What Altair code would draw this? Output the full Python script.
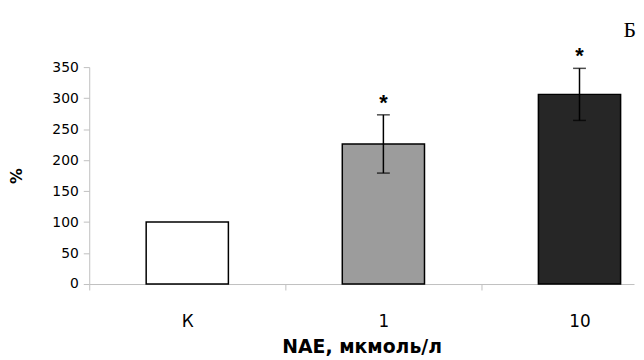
import altair as alt
import pandas as pd

categories = ["К", "1", "10"]
means = [100, 226, 306]
errors = [0, 47, 42]
marks = ["", "*", "*"]
fills = ["#ffffff", "#9c9c9c", "#262626"]

df = pd.DataFrame({
    "idx": list(range(len(categories))),
    "cat": categories,
    "mean": means,
    "lo": [m - e for m, e in zip(means, errors)],
    "hi": [m + e for m, e in zip(means, errors)],
    "has_err": [e > 0 for e in errors],
    "star": marks,
    "fill": fills,
})

label_expr = " : ".join(
    f"datum.value == {i} ? '{c}'" for i, c in enumerate(categories)
) + " : ''"
tick_values = [-0.5, 0, 0.5, 1, 1.5, 2]

xscale = alt.Scale(domain=[-0.5, 2.278], nice=False, zero=False, padding=0)
xaxis = alt.Axis(
    values=tick_values,
    labelExpr=label_expr,
    tickOpacity={"condition": {"test": "datum.value % 1 == 0", "value": 0}, "value": 1},
    grid=False,
    tickSize=6,
    labelOverlap=False,
    labelFlush=False,
    labelPadding=24,
    labelFontSize=17,
    labelFont="DejaVu Sans",
    labelColor="#000000",
    domainColor="#bfbfbf",
    tickColor="#bfbfbf",
    title="NAE, мкмоль/л",
    titleFont="DejaVu Sans",
    titleFontSize=19,
    titleFontWeight="bold",
    titleColor="#000000",
    titlePadding=8,
)

yscale = alt.Scale(domain=[0, 350], nice=False)
yaxis = alt.Axis(
    values=[0, 50, 100, 150, 200, 250, 300, 350],
    grid=False,
    tickSize=6,
    labelPadding=5,
    labelOverlap=False,
    labelFontSize=14,
    labelFont="DejaVu Sans",
    labelColor="#000000",
    domainColor="#bfbfbf",
    tickColor="#bfbfbf",
    title="%",
    titleFont="DejaVu Sans",
    titleFontSize=16,
    titleFontWeight="bold",
    titleColor="#000000",
    titlePadding=28,
)

def X():
    return alt.X("idx:Q", scale=xscale, axis=xaxis)

def Y(field):
    return alt.Y(f"{field}:Q", scale=yscale, axis=yaxis)

bars = alt.Chart(df).mark_bar(size=83, stroke="#000000", strokeWidth=1.5).encode(
    x=X(),
    y=Y("mean"),
    fill=alt.Fill("fill:N", scale=None),
)

err_df = df[df["has_err"]]
rule = alt.Chart(err_df).mark_rule(color="#000000", strokeWidth=1.5).encode(
    x=X(), y=Y("lo"), y2="hi:Q"
)
cap_hi = alt.Chart(err_df).mark_tick(
    orient="horizontal", size=13, thickness=1.5, color="#000000"
).encode(x=X(), y=Y("hi"))
cap_lo = alt.Chart(err_df).mark_tick(
    orient="horizontal", size=13, thickness=1.5, color="#000000"
).encode(x=X(), y=Y("lo"))

stars = alt.Chart(err_df).mark_text(
    font="Liberation Sans", fontSize=22, fontWeight="bold", baseline="middle", dy=-12, color="#000000"
).encode(x=X(), y=Y("hi"), text="star:N")

chart = alt.layer(bars, rule, cap_hi, cap_lo, stars).properties(
    width=550,
    height=219,
    padding={"left": 0, "top": 9, "right": 0, "bottom": 0},
    title=alt.TitleParams(
        "Б",
        anchor="end",
        frame="group",
        font="Liberation Serif",
        fontSize=22,
        fontWeight="normal",
        color="#000000",
        baseline="alphabetic",
        offset=-13,
        dx=2,
    ),
).configure_view(stroke=None)

chart.save("out.html", embed_options={"renderer": "svg", "actions": False})
